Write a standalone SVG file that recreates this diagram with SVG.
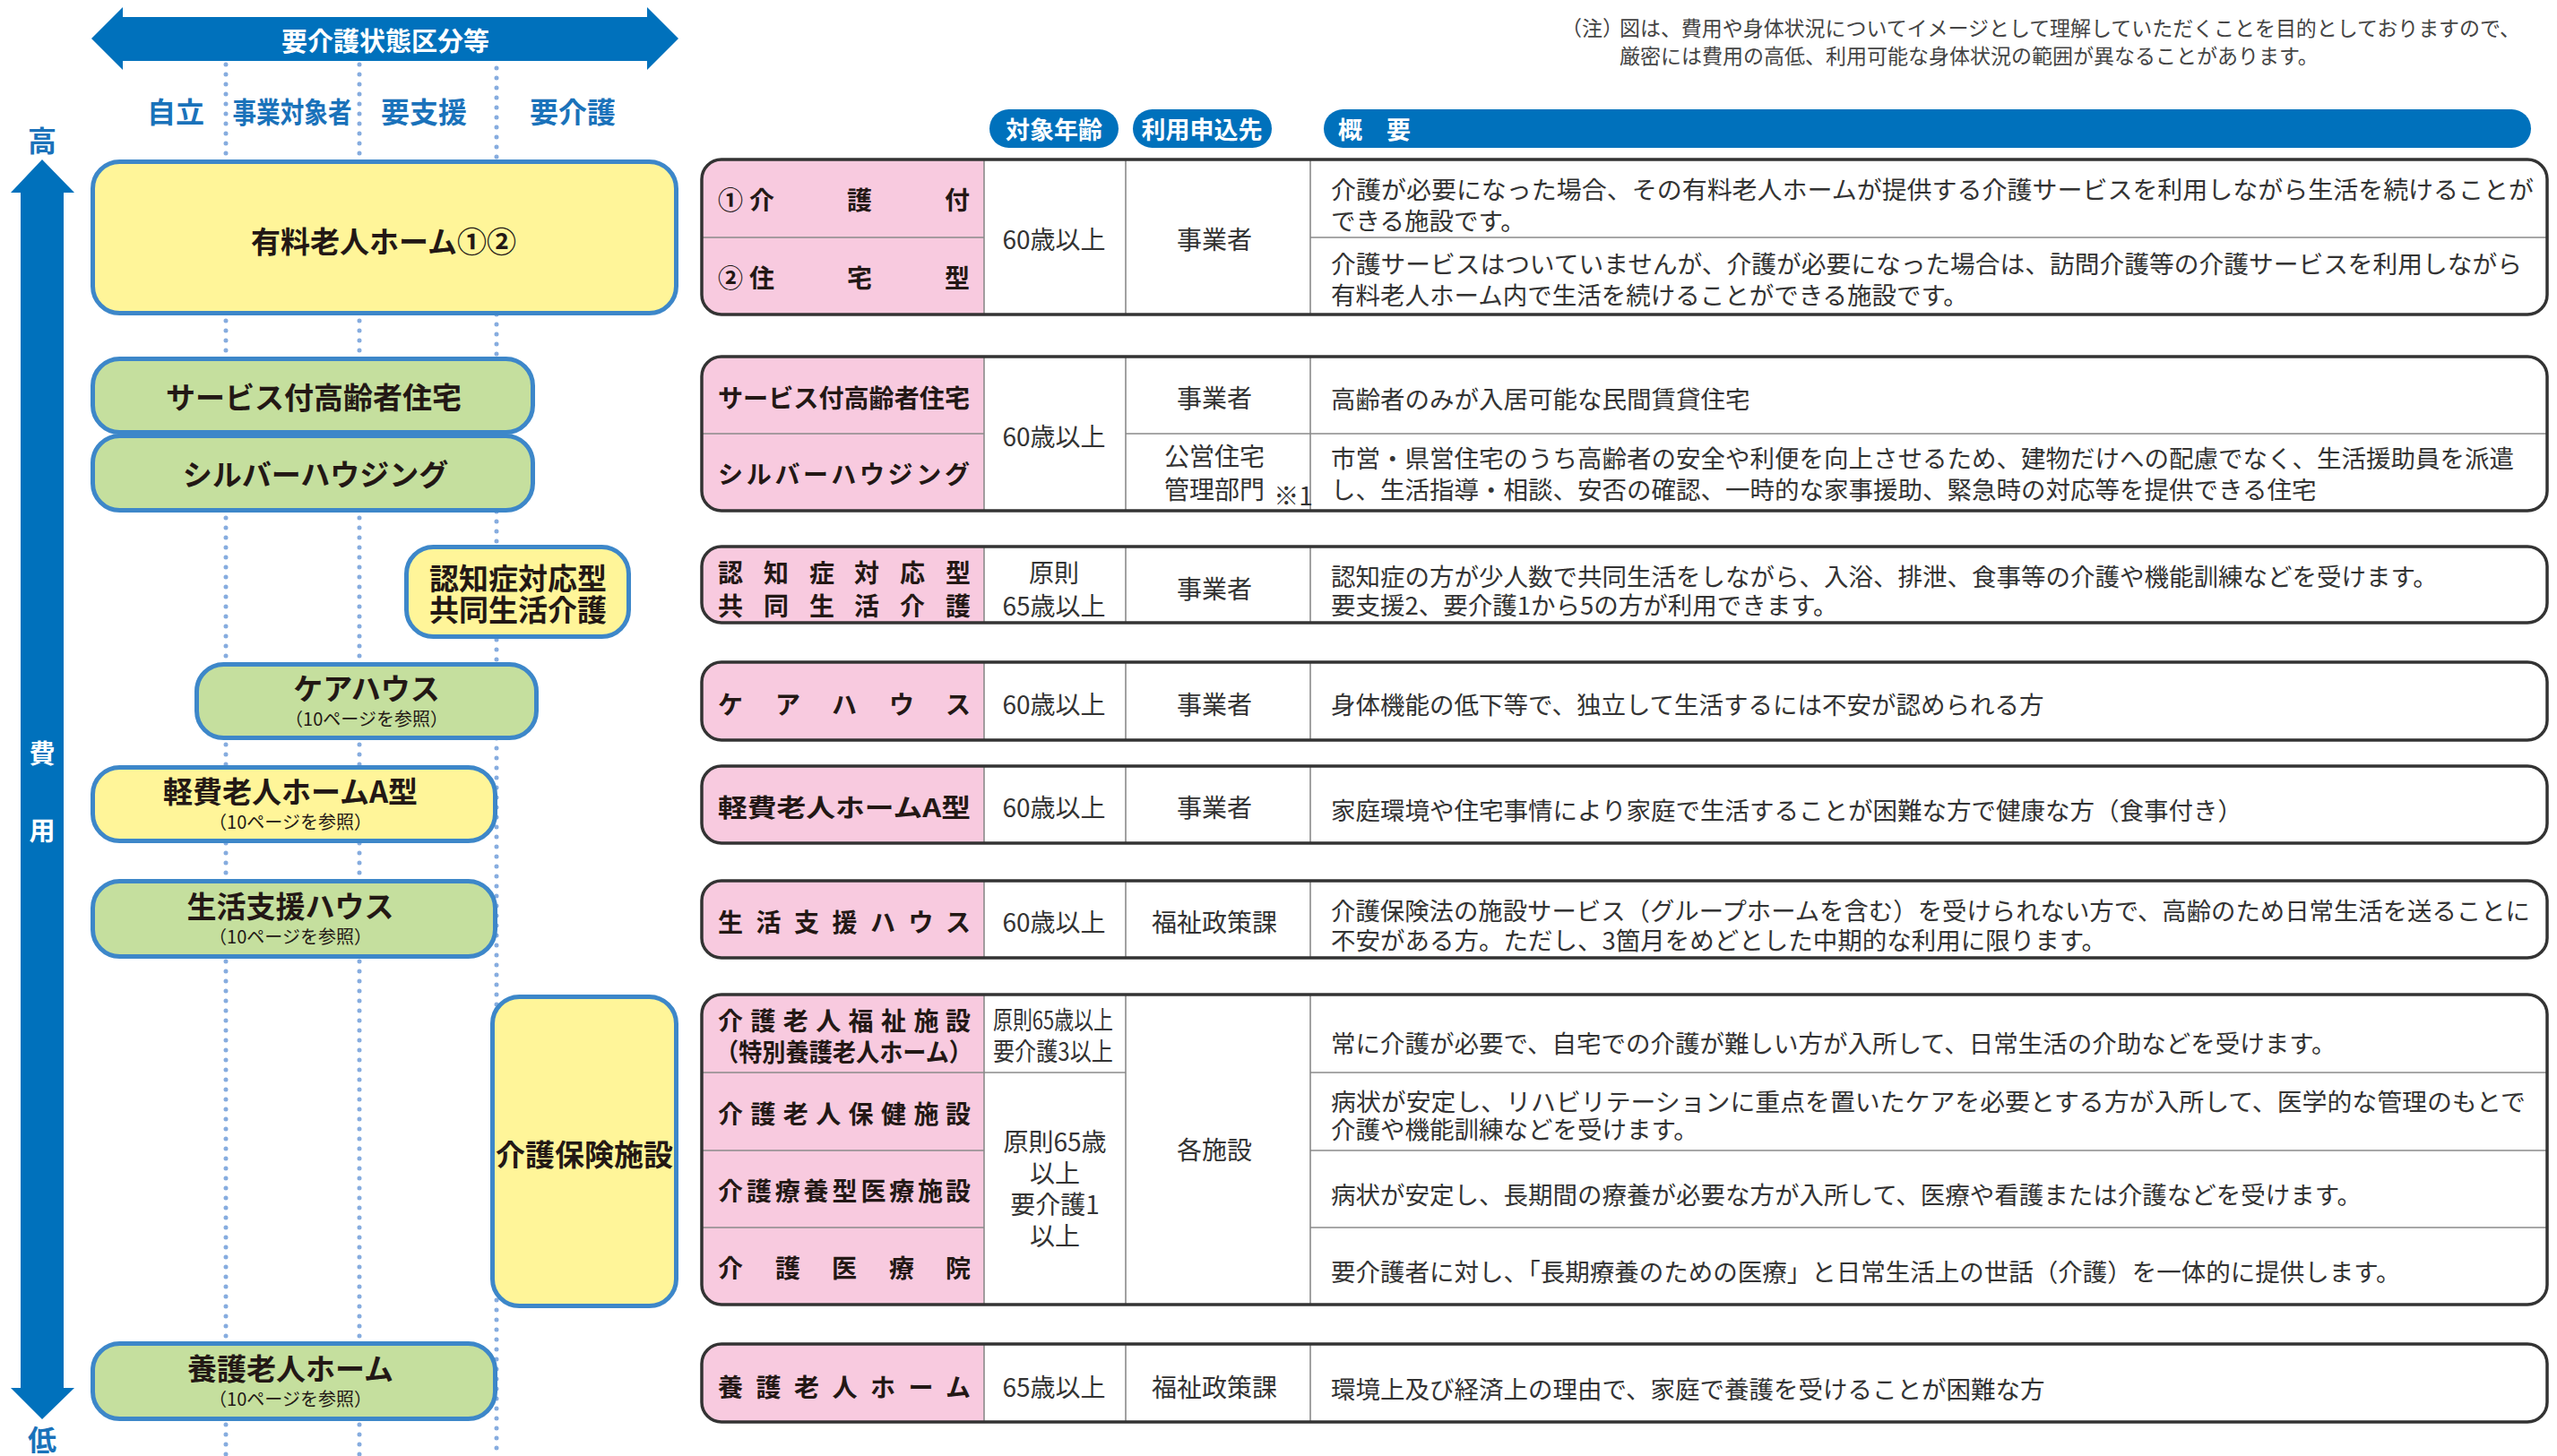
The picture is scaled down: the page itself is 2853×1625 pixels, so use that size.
<svg xmlns="http://www.w3.org/2000/svg" width="2853" height="1625" viewBox="0 0 2853 1625">
<style>
text{font-family:"Noto Sans CJK JP","Noto Sans CJK SC",sans-serif;dominant-baseline:central}
.nb{fill:#fff599;stroke:#3d87c9;stroke-width:5}
.ng{fill:#c5df9e;stroke:#3d87c9;stroke-width:5}
.nt{font-weight:700;fill:#231815;text-anchor:middle;font-size:33px}
.sub{font-weight:400;fill:#231815;text-anchor:middle;font-size:20px}
.lbl{font-weight:700;fill:#1a72ba;text-anchor:middle;font-size:32px}
.wt{font-weight:700;fill:#fff;text-anchor:middle;font-size:29px}
.hd{font-weight:700;fill:#fff;font-size:27px}
.pk{font-weight:700;fill:#231815;font-size:28px}
.cell{font-weight:400;fill:#333;text-anchor:middle;font-size:28px}
.desc{font-weight:400;fill:#333;font-size:27.5px}
.note{font-weight:400;fill:#444;font-size:23px}
.tw{fill:#fff}
.tp{fill:#f8cadf}
.to{fill:none;stroke:#333;stroke-width:3.5}
.dv{stroke:#8a8a8a;stroke-width:1.6;fill:none}
.dot{stroke:#86acdf;stroke-width:5;stroke-linecap:round;stroke-dasharray:0 11;fill:none}
.pill{fill:#0071bc}
</style>

<g id="guides">
  <line class="dot" x1="252" y1="72" x2="252" y2="1625"/>
  <line class="dot" x1="401" y1="72" x2="401" y2="1625"/>
  <line class="dot" x1="554" y1="76" x2="554" y2="1625"/>
  <polygon fill="#0071bc" points="102,43 137,8 137,19 722,19 722,8 757,43 722,78 722,68 137,68 137,78"/>
  <text class="wt" x="430" y="44" font-size="28">要介護状態区分等</text>
  <polygon fill="#0071bc" points="47,178 83,215 71,215 71,1549 83,1549 47,1584 12,1549 23,1549 23,215 12,215"/>
  <text class="lbl" x="47" y="155" font-size="30">高</text>
  <text class="wt" x="47" y="839">費</text>
  <text class="wt" x="47" y="925">用</text>
  <text class="lbl" x="47" y="1605" font-size="28">低</text>
  <text class="lbl" x="196" y="123">自立</text>
  <text class="lbl" x="326" y="123" textLength="133" lengthAdjust="spacingAndGlyphs">事業対象者</text>
  <text class="lbl" x="473" y="123">要支援</text>
  <text class="lbl" x="639" y="123">要介護</text>
</g>

<g id="note">
  <text class="note" x="1742" y="30">（注）</text>
  <text class="note" x="1807" y="30" textLength="1005" lengthAdjust="spacingAndGlyphs">図は、費用や身体状況についてイメージとして理解していただくことを目的としておりますので、</text>
  <text class="note" x="1807" y="61">厳密には費用の高低、利用可能な身体状況の範囲が異なることがあります。</text>
</g>

<g id="header">
  <rect class="pill" x="1104" y="122" width="144" height="43" rx="21.5"/>
  <text class="hd" x="1176" y="143.5" text-anchor="middle">対象年齢</text>
  <rect class="pill" x="1264" y="122" width="155" height="43" rx="21.5"/>
  <text class="hd" x="1341" y="143.5" text-anchor="middle">利用申込先</text>
  <rect class="pill" x="1477" y="122" width="1347" height="43" rx="21.5"/>
  <text class="hd" x="1493" y="143.5">概　要</text>
</g>

<g id="node-yuryo">
  <rect class="nb" x="103.5" y="180.5" width="651" height="169" rx="30"/>
  <text class="nt" x="428" y="268" font-size="34">有料老人ホーム①②</text>
</g>
<g id="node-sakoju">
  <rect class="ng" x="103.5" y="400.5" width="491" height="82" rx="30"/>
  <text class="nt" x="350" y="442">サービス付高齢者住宅</text>
</g>
<g id="node-silver">
  <rect class="ng" x="103.5" y="486.5" width="491" height="83" rx="30"/>
  <text class="nt" x="352" y="528">シルバーハウジング</text>
</g>
<g id="node-ninchisho">
  <rect class="nb" x="453.5" y="610.5" width="248" height="100" rx="30"/>
  <text class="nt" x="578" y="644" font-size="30">認知症対応型</text>
  <text class="nt" x="578" y="679" font-size="30">共同生活介護</text>
</g>
<g id="node-carehouse">
  <rect class="ng" x="219.5" y="741.5" width="379" height="82" rx="30"/>
  <text class="nt" x="409" y="767" font-size="32">ケアハウス</text>
  <text class="sub" x="409" y="801">（10ページを参照）</text>
</g>
<g id="node-keihi">
  <rect class="nb" x="103.5" y="856.5" width="449" height="82" rx="30"/>
  <text class="nt" x="324" y="882" font-size="32">軽費老人ホームA型</text>
  <text class="sub" x="324" y="916">（10ページを参照）</text>
</g>
<g id="node-seikatsu">
  <rect class="ng" x="103.5" y="983.5" width="449" height="84" rx="30"/>
  <text class="nt" x="324" y="1010" font-size="32">生活支援ハウス</text>
  <text class="sub" x="324" y="1044">（10ページを参照）</text>
</g>
<g id="node-kaigohoken">
  <rect class="nb" x="549.5" y="1112.5" width="205" height="345" rx="30"/>
  <text class="nt" x="652" y="1287" font-size="31">介護保険施設</text>
</g>
<g id="node-yogo">
  <rect class="ng" x="103.5" y="1499.5" width="449" height="84" rx="30"/>
  <text class="nt" x="324" y="1526" font-size="32">養護老人ホーム</text>
  <text class="sub" x="324" y="1560">（10ページを参照）</text>
</g>

<g id="row-yuryo">
  <rect class="tw" x="783" y="178" width="2059" height="173" rx="22"/>
  <path class="tp" d="M1098,178 L805,178 A22,22 0 0 0 783,200 L783,329 A22,22 0 0 0 805,351 L1098,351 Z"/>
  <path class="dv" d="M1098,178V351M1256,178V351M1462,178V351M783,265H1098M1462,265H2842"/>
  <rect class="to" x="783" y="178" width="2059" height="173" rx="22"/>
  <text class="pk" x="801 836 945 1054" y="222" font-size="29">①介護付</text>
  <text class="pk" x="801 836 945 1054" y="309" font-size="29">②住宅型</text>
  <text class="cell" x="1176" y="266">60歳以上</text>
  <text class="cell" x="1355" y="266">事業者</text>
  <text class="desc" x="1485" y="210" textLength="1342" lengthAdjust="spacingAndGlyphs">介護が必要になった場合、その有料老人ホームが提供する介護サービスを利用しながら生活を続けることが</text>
  <text class="desc" x="1485" y="245">できる施設です。</text>
  <text class="desc" x="1485" y="293" textLength="1329" lengthAdjust="spacingAndGlyphs">介護サービスはついていませんが、介護が必要になった場合は、訪問介護等の介護サービスを利用しながら</text>
  <text class="desc" x="1485" y="328">有料老人ホーム内で生活を続けることができる施設です。</text>
</g>

<g id="row-sakoju">
  <rect class="tw" x="783" y="398" width="2059" height="172" rx="22"/>
  <path class="tp" d="M1098,398 L805,398 A22,22 0 0 0 783,420 L783,548 A22,22 0 0 0 805,570 L1098,570 Z"/>
  <path class="dv" d="M1098,398V570M1256,398V570M1462,398V570M783,484H1098M1256,484H2842"/>
  <rect class="to" x="783" y="398" width="2059" height="172" rx="22"/>
  <text class="pk" x="801" y="443" textLength="281" lengthAdjust="spacingAndGlyphs">サービス付高齢者住宅</text>
  <text class="pk" x="801" y="528" textLength="281" lengthAdjust="spacing">シルバーハウジング</text>
  <text class="cell" x="1176" y="486">60歳以上</text>
  <text class="cell" x="1355" y="443">事業者</text>
  <text class="cell" x="1355" y="508">公営住宅</text>
  <text class="cell" x="1355" y="545">管理部門</text>
  <text class="cell" x="1443" y="552" font-size="16">※1</text>
  <text class="desc" x="1485" y="444">高齢者のみが入居可能な民間賃貸住宅</text>
  <text class="desc" x="1485" y="510" textLength="1320" lengthAdjust="spacingAndGlyphs">市営・県営住宅のうち高齢者の安全や利便を向上させるため、建物だけへの配慮でなく、生活援助員を派遣</text>
  <text class="desc" x="1485" y="545">し、生活指導・相談、安否の確認、一時的な家事援助、緊急時の対応等を提供できる住宅</text>
</g>

<g id="row-ninchisho">
  <rect class="tw" x="783" y="610" width="2059" height="85" rx="22"/>
  <path class="tp" d="M1098,610 L805,610 A22,22 0 0 0 783,632 L783,673 A22,22 0 0 0 805,695 L1098,695 Z"/>
  <path class="dv" d="M1098,610V695M1256,610V695M1462,610V695"/>
  <rect class="to" x="783" y="610" width="2059" height="85" rx="22"/>
  <text class="pk" x="801 852 903 953 1004 1055" y="638">認知症対応型</text>
  <text class="pk" x="801 852 903 953 1004 1055" y="675">共同生活介護</text>
  <text class="cell" x="1176" y="638">原則</text>
  <text class="cell" x="1176" y="675">65歳以上</text>
  <text class="cell" x="1355" y="656">事業者</text>
  <text class="desc" x="1485" y="642">認知症の方が少人数で共同生活をしながら、入浴、排泄、食事等の介護や機能訓練などを受けます。</text>
  <text class="desc" x="1485" y="674">要支援2、要介護1から5の方が利用できます。</text>
</g>

<g id="row-carehouse">
  <rect class="tw" x="783" y="739" width="2059" height="87" rx="22"/>
  <path class="tp" d="M1098,739 L805,739 A22,22 0 0 0 783,761 L783,804 A22,22 0 0 0 805,826 L1098,826 Z"/>
  <path class="dv" d="M1098,739V826M1256,739V826M1462,739V826"/>
  <rect class="to" x="783" y="739" width="2059" height="87" rx="22"/>
  <text class="pk" x="801 865 928 992 1055" y="785">ケアハウス</text>
  <text class="cell" x="1176" y="785">60歳以上</text>
  <text class="cell" x="1355" y="785">事業者</text>
  <text class="desc" x="1485" y="785">身体機能の低下等で、独立して生活するには不安が認められる方</text>
</g>

<g id="row-keihi">
  <rect class="tw" x="783" y="855" width="2059" height="86" rx="22"/>
  <path class="tp" d="M1098,855 L805,855 A22,22 0 0 0 783,877 L783,919 A22,22 0 0 0 805,941 L1098,941 Z"/>
  <path class="dv" d="M1098,855V941M1256,855V941M1462,855V941"/>
  <rect class="to" x="783" y="855" width="2059" height="86" rx="22"/>
  <text class="pk" x="801" y="900" font-size="30" textLength="282" lengthAdjust="spacingAndGlyphs">軽費老人ホームA型</text>
  <text class="cell" x="1176" y="900">60歳以上</text>
  <text class="cell" x="1355" y="900">事業者</text>
  <text class="desc" x="1485" y="903">家庭環境や住宅事情により家庭で生活することが困難な方で健康な方（食事付き）</text>
</g>

<g id="row-seikatsu">
  <rect class="tw" x="783" y="983" width="2059" height="86" rx="22"/>
  <path class="tp" d="M1098,983 L805,983 A22,22 0 0 0 783,1005 L783,1047 A22,22 0 0 0 805,1069 L1098,1069 Z"/>
  <path class="dv" d="M1098,983V1069M1256,983V1069M1462,983V1069"/>
  <rect class="to" x="783" y="983" width="2059" height="86" rx="22"/>
  <text class="pk" x="801 843.5 886 928.5 971 1013.5 1055" y="1028">生活支援ハウス</text>
  <text class="cell" x="1176" y="1028">60歳以上</text>
  <text class="cell" x="1355" y="1028">福祉政策課</text>
  <text class="desc" x="1485" y="1015" textLength="1338" lengthAdjust="spacingAndGlyphs">介護保険法の施設サービス（グループホームを含む）を受けられない方で、高齢のため日常生活を送ることに</text>
  <text class="desc" x="1485" y="1048">不安がある方。ただし、3箇月をめどとした中期的な利用に限ります。</text>
</g>

<g id="row-kaigohoken">
  <rect class="tw" x="783" y="1110" width="2059" height="346" rx="22"/>
  <path class="tp" d="M1098,1110 L805,1110 A22,22 0 0 0 783,1132 L783,1434 A22,22 0 0 0 805,1456 L1098,1456 Z"/>
  <path class="dv" d="M1098,1110V1456M1256,1110V1456M1462,1110V1456M783,1197H1256M1462,1197H2842M783,1284H1098M1462,1284H2842M783,1370H1098M1462,1370H2842"/>
  <rect class="to" x="783" y="1110" width="2059" height="346" rx="22"/>
  <text class="pk" x="801 837.4 873.8 910.2 946.6 983 1019.4 1055" y="1138">介護老人福祉施設</text>
  <text class="pk" x="798" y="1173" textLength="287" lengthAdjust="spacingAndGlyphs">（特別養護老人ホーム）</text>
  <text class="pk" x="801 837.4 873.8 910.2 946.6 983 1019.4 1055" y="1242">介護老人保健施設</text>
  <text class="pk" x="801 832.9 864.8 896.6 928.5 960.4 992.3 1024.1 1055" y="1328">介護療養型医療施設</text>
  <text class="pk" x="801 865 928 992 1055" y="1414">介護医療院</text>
  <text class="cell" x="1175" y="1137" font-size="25" textLength="134" lengthAdjust="spacingAndGlyphs">原則65歳以上</text>
  <text class="cell" x="1175" y="1172" font-size="25" textLength="134" lengthAdjust="spacingAndGlyphs">要介護3以上</text>
  <text class="cell" x="1177" y="1273">原則65歳</text>
  <text class="cell" x="1177" y="1308">以上</text>
  <text class="cell" x="1177" y="1343">要介護1</text>
  <text class="cell" x="1177" y="1378">以上</text>
  <text class="cell" x="1355" y="1282">各施設</text>
  <text class="desc" x="1485" y="1163">常に介護が必要で、自宅での介護が難しい方が入所して、日常生活の介助などを受けます。</text>
  <text class="desc" x="1485" y="1228" textLength="1333" lengthAdjust="spacingAndGlyphs">病状が安定し、リハビリテーションに重点を置いたケアを必要とする方が入所して、医学的な管理のもとで</text>
  <text class="desc" x="1485" y="1259">介護や機能訓練などを受けます。</text>
  <text class="desc" x="1485" y="1332">病状が安定し、長期間の療養が必要な方が入所して、医療や看護または介護などを受けます。</text>
  <text class="desc" x="1485" y="1418">要介護者に対し、「長期療養のための医療」と日常生活上の世話（介護）を一体的に提供します。</text>
</g>

<g id="row-yogo">
  <rect class="tw" x="783" y="1500" width="2059" height="87" rx="22"/>
  <path class="tp" d="M1098,1500 L805,1500 A22,22 0 0 0 783,1522 L783,1565 A22,22 0 0 0 805,1587 L1098,1587 Z"/>
  <path class="dv" d="M1098,1500V1587M1256,1500V1587M1462,1500V1587"/>
  <rect class="to" x="783" y="1500" width="2059" height="87" rx="22"/>
  <text class="pk" x="801 843.5 886 928.5 971 1013.5 1055" y="1547">養護老人ホーム</text>
  <text class="cell" x="1176" y="1547">65歳以上</text>
  <text class="cell" x="1355" y="1547">福祉政策課</text>
  <text class="desc" x="1485" y="1549">環境上及び経済上の理由で、家庭で養護を受けることが困難な方</text>
</g>
</svg>
